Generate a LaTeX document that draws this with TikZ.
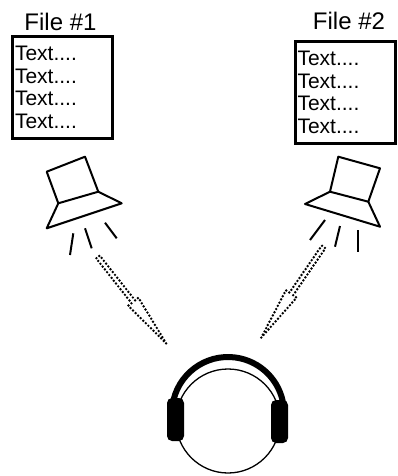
\documentclass[tikz,border=0pt]{standalone}
\usepackage{fontspec}
\setmainfont{Liberation Sans}
\usetikzlibrary{shapes.arrows, positioning}

\begin{document}
\begin{tikzpicture}[
    x=1pt, y=-1pt,
    filebox/.style={draw=black, line width=3pt, inner xsep=2.5pt, inner ysep=0pt, minimum width=100pt, minimum height=102pt, text width=95pt, align=left, font=\fontsize{21}{22.5}\selectfont},
    filelabel/.style={inner sep=0pt, font=\fontsize{24}{28}\selectfont},
    speaker/.style={draw=black, line width=2pt, line join=round},
    ray/.style={draw=black, line width=2pt},
    sound/.style={single arrow, draw=black, line width=2.7pt, line cap=round, dash pattern=on 0pt off 3.6pt, minimum height=110pt, minimum width=13pt, single arrow head extend=2.5pt, single arrow tip angle=14, inner sep=0pt, anchor=tip},
    cup/.style={fill=black, rounded corners=5pt}
]
    \useasboundingbox (0,0) rectangle (397,476);

    % Text files with their titles
    \node [filebox] (file1) at (62.5,87.5) {Text....\\Text....\\Text....\\Text....};
    \node [filebox] (file2) at (345,92.5) {Text....\\Text....\\Text....\\Text....};
    \node [filelabel, above=4pt of file1, xshift=-2pt] (title1) {File \#1};
    \node [filelabel, above=10pt of file2, xshift=4pt] (title2) {File \#2};

    % Left speaker
    \draw [speaker] (46.7,171.7) -- (85,156.7) -- (98.3,191.7) -- (58.3,203.3) -- cycle;
    \draw [speaker] (58.3,203.3) -- (46.7,228.3) -- (121.7,203.3) -- (98.3,191.7);
    \foreach \xa/\ya/\xb/\yb in {73.3/233.3/70/255, 85/228.3/91.7/248.3, 105/222.7/116.7/238.3}
        \draw [ray] (\xa,\ya) -- (\xb,\yb);

    % Right speaker
    \draw [speaker] (338.3,156.7) -- (380,168.3) -- (368.3,201.7) -- (330,191.7) -- cycle;
    \draw [speaker] (330,191.7) -- (305,204) -- (380,226.7) -- (368.3,201.7);
    \foreach \xa/\ya/\xb/\yb in {325/220/310/240, 340/226/335/246.7, 358.3/230/358.3/251.7}
        \draw [ray] (\xa,\ya) -- (\xb,\yb);

    % Sound going to the listener
    \node [sound, rotate=-51.7] (sound1) at (173,352) {};
    \node [sound, rotate=-124.5] (sound2) at (255,346.7) {};

    % Head with headphones
    \draw [line width=1.3pt] (228,421) circle [radius=52];
    \draw [line width=6pt] (228,413) ++(188:56) arc [start angle=188, end angle=352, radius=56];
    \fill [cup] (167,398) rectangle (184,441);
    \fill [cup] (271,400) rectangle (288,443);
\end{tikzpicture}
\end{document}
